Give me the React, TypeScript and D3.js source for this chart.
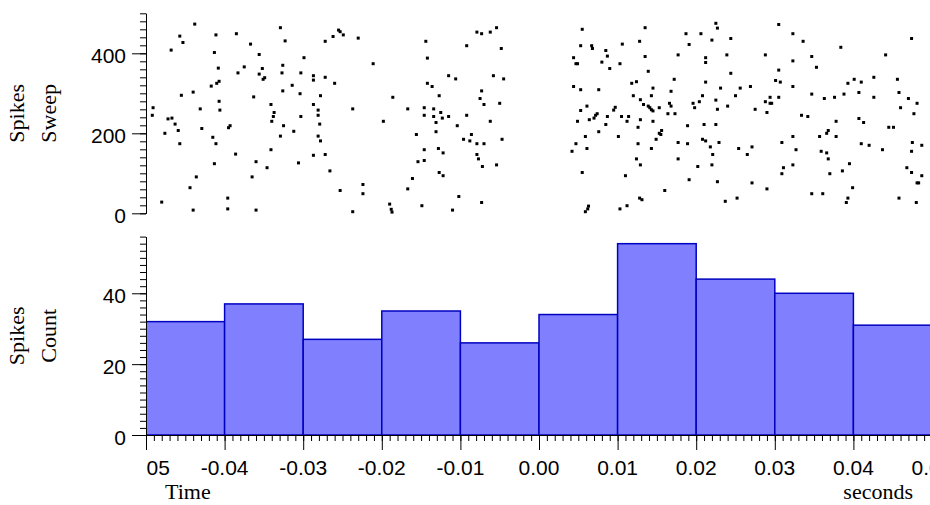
import React, { useEffect, useRef } from 'react';
import * as d3 from 'd3';

// spike raster: [time in ms, sweep number]
const spikes: [number, number][] = [
  [-49.1, 264], [-49.2, 245], [-48.0, 28], [-47.6, 200], [-47.2, 236], [-46.7, 238], [-46.8, 408], [-46.3, 223],
  [-45.9, 207], [-45.7, 174], [-45.7, 443], [-45.3, 427], [-45.5, 295], [-44.4, 64], [-44.0, 8], [-44.0, 303],
  [-43.8, 473], [-43.6, 91], [-43.1, 261], [-42.9, 212], [-41.7, 318], [-41.5, 190], [-41.3, 402], [-41.3, 124],
  [-41.1, 446], [-41.1, 174], [-41.0, 325], [-40.7, 330], [-40.8, 363], [-40.7, 280], [-40.6, 258], [-39.6, 38],
  [-39.6, 11], [-39.5, 214], [-39.3, 219], [-38.6, 148], [-38.5, 449], [-38.3, 351], [-37.5, 366], [-36.7, 423],
  [-36.5, 91], [-36.3, 291], [-36.0, 129], [-36.0, 8], [-35.6, 397], [-35.6, 348], [-35.2, 362], [-35.1, 335],
  [-34.9, 339], [-34.6, 114], [-34.1, 272], [-34.1, 159], [-34.0, 230], [-33.8, 242], [-33.7, 252], [-32.9, 464],
  [-32.9, 193], [-32.7, 351], [-32.6, 370], [-32.6, 306], [-32.5, 219], [-32.3, 431], [-31.4, 320], [-31.2, 205],
  [-30.6, 126], [-29.9, 389], [-30.3, 351], [-30.4, 299], [-30.3, 242], [-28.7, 344], [-28.7, 333], [-28.7, 272],
  [-28.7, 145], [-28.1, 258], [-28.1, 245], [-27.9, 223], [-28.1, 193], [-27.8, 181], [-27.8, 294], [-27.2, 430],
  [-27.2, 340], [-27.2, 147], [-26.6, 106], [-26.2, 442], [-26.0, 325], [-25.5, 458], [-25.3, 454], [-24.9, 446],
  [-25.3, 57], [-23.7, 261], [-23.7, 4], [-23.0, 438], [-22.4, 72], [-22.4, 49], [-21.1, 374], [-19.8, 230],
  [-19.0, 23], [-18.8, 10], [-18.7, 3], [-18.6, 290], [-16.7, 261], [-16.7, 61], [-16.1, 87], [-15.6, 197],
  [-15.4, 129], [-14.9, 19], [-14.6, 264], [-14.6, 245], [-14.6, 159], [-14.6, 132], [-14.4, 430], [-14.2, 388],
  [-14.2, 325], [-13.6, 317], [-13.4, 261], [-13.4, 242], [-13.1, 227], [-13.1, 204], [-12.8, 162], [-12.7, 294],
  [-12.7, 102], [-12.5, 252], [-12.3, 238], [-12.2, 151], [-12.2, 94], [-11.5, 242], [-11.5, 344], [-11.0, 8],
  [-10.6, 336], [-10.4, 219], [-10.2, 42], [-9.6, 185], [-9.2, 419], [-9.2, 245], [-8.8, 181], [-8.6, 197],
  [-7.9, 453], [-7.3, 449], [-7.9, 174], [-7.9, 147], [-7.7, 136], [-7.5, 287], [-7.3, 306], [-7.3, 27],
  [-7.2, 117], [-7.0, 272], [-7.0, 174], [-6.2, 453], [-6.2, 230], [-5.8, 344], [-5.4, 464], [-5.4, 121],
  [-5.0, 275], [-4.8, 412], [-4.7, 185], [-4.5, 336],
  [4.2, 155], [4.4, 389], [4.4, 317], [4.7, 374], [4.9, 374], [4.7, 174], [4.9, 230], [5.3, 419],
  [5.3, 309], [5.3, 257], [5.5, 460], [5.5, 102], [5.9, 192], [5.9, 4], [6.3, 18], [6.2, 11],
  [6.1, 162], [6.1, 268], [6.4, 234], [6.7, 419], [6.8, 412], [7.0, 238], [7.2, 245], [7.4, 249],
  [7.6, 309], [7.6, 204], [8.0, 378], [8.5, 407], [8.5, 222], [8.7, 393], [8.7, 242],
  [9.0, 362], [9.5, 258], [9.7, 265], [10.1, 192], [10.3, 374], [10.3, 11], [10.5, 242], [10.6, 423],
  [11.0, 94], [11.2, 19], [11.2, 230], [11.4, 242], [11.8, 325], [12.4, 329], [12.0, 294], [12.4, 136],
  [12.6, 215], [12.6, 174], [12.8, 430], [12.8, 38], [13.1, 34], [12.9, 284], [12.9, 234], [12.9, 121],
  [13.3, 272], [13.5, 464], [13.5, 392], [13.9, 355], [13.9, 268], [14.1, 264], [14.3, 259], [14.5, 256],
  [14.3, 294], [14.3, 162], [14.5, 313], [14.5, 230], [14.9, 185], [15.3, 264], [15.3, 200], [15.5, 197],
  [15.6, 207], [16.0, 57], [16.4, 249], [16.6, 275], [16.8, 268], [16.8, 305], [17.2, 335], [17.3, 249],
  [17.7, 396], [17.7, 177], [17.7, 136], [18.7, 449], [18.9, 219], [18.9, 174], [19.1, 422], [19.1, 84],
  [19.6, 275], [19.8, 264], [20.2, 117], [20.4, 279], [20.6, 449], [20.8, 294], [20.8, 185], [21.2, 181],
  [21.0, 222], [21.2, 389], [21.2, 377], [21.2, 328], [21.8, 166], [22.0, 433], [22.0, 121], [22.1, 147],
  [22.5, 475], [22.7, 463], [22.5, 283], [22.5, 222], [22.7, 260], [22.7, 79], [22.9, 177], [23.1, 313],
  [23.7, 30], [23.9, 396], [24.0, 268], [24.4, 437], [24.4, 350], [25.0, 294], [25.2, 38], [25.4, 162],
  [25.6, 313], [26.5, 147], [26.9, 317], [27.1, 166], [27.1, 76], [27.5, 260], [28.8, 396], [28.8, 279],
  [29.0, 252], [29.0, 61], [29.4, 290], [29.4, 275], [29.6, 275], [30.1, 332], [30.5, 472], [30.5, 358],
  [30.7, 328], [30.5, 290], [30.9, 177], [31.1, 114], [30.9, 99], [32.3, 449], [32.3, 381], [32.3, 317],
  [32.3, 192], [32.3, 121], [32.7, 159], [33.4, 245], [33.6, 430], [34.2, 242], [34.7, 392], [34.7, 298],
  [34.7, 49], [35.3, 365], [35.7, 192], [35.9, 155], [36.1, 49], [36.3, 287], [36.6, 151], [36.6, 200],
  [36.8, 207], [36.8, 136], [37.0, 99], [37.6, 290], [37.8, 230], [37.8, 192], [38.4, 415], [38.6, 106],
  [38.8, 298], [39.3, 325], [39.3, 38], [39.1, 27], [39.5, 124], [39.9, 64], [40.1, 335], [40.7, 302],
  [40.7, 237], [41.0, 328], [41.0, 174], [41.3, 227], [42.0, 170], [42.6, 340], [42.6, 290], [43.7, 159],
  [44.1, 396], [44.5, 215], [45.1, 215], [45.6, 335], [45.8, 302], [46.0, 264], [45.8, 38], [46.8, 114],
  [47.0, 287], [47.4, 437], [47.4, 102], [47.4, 155], [47.5, 177], [47.7, 249], [48.0, 27], [48.1, 275],
  [48.1, 76], [48.3, 76], [48.7, 170], [48.7, 94],
];

// histogram bins (start in ms, width 10 ms)
const binStartMs = [-60, -50, -40, -30, -20, -10, 0, 10, 20, 30, 40];
const binCounts = [35, 32, 37, 27, 35, 26, 34, 54, 44, 40, 31];

const sweepTicks = [0, 200, 400];
const countTicks = [0, 20, 40];
const timeTicks = [-0.05, -0.04, -0.03, -0.02, -0.01, 0, 0.01, 0.02, 0.03, 0.04, 0.05];

const sansFont = '"Liberation Sans", Arial, sans-serif';
const serifFont = '"Liberation Serif", "Times New Roman", serif';

const App = () => {
    const chartRef = useRef<SVGSVGElement>(null);

    useEffect(() => {
        const svg = d3.select(chartRef.current);
        svg.selectAll('*').remove();

        const x = d3.scaleLinear().domain([-0.05, 0.05]).range([146, 932]);
        const ySweep = d3.scaleLinear().domain([0, 500]).range([213.3, 13.3]);
        const yCount = d3.scaleLinear().domain([0, 56]).range([435, 236.6]);

        svg.append('defs').append('clipPath').attr('id', 'plotClip')
            .append('rect').attr('x', 146).attr('y', 0).attr('width', 800).attr('height', 505);

        // raster dots
        svg.append('g')
            .selectAll('rect')
            .data(spikes)
            .join('rect')
            .attr('x', d => x(d[0] / 1000) - 1.5)
            .attr('y', d => ySweep(d[1]) - 1.5)
            .attr('width', 3)
            .attr('height', 3)
            .attr('fill', '#000');

        // histogram bars
        svg.append('g')
            .attr('clip-path', 'url(#plotClip)')
            .selectAll('rect')
            .data(binStartMs.map((s, i) => ({ s: s / 1000, e: (s + 10) / 1000, c: binCounts[i] })))
            .join('rect')
            .attr('x', d => x(d.s))
            .attr('width', d => x(d.e) - x(d.s))
            .attr('y', d => yCount(d.c))
            .attr('height', d => yCount(0) - yCount(d.c))
            .attr('fill', '#8080ff')
            .attr('stroke', '#0000c0')
            .attr('stroke-width', 1.5);

        const styleAxis = (g, size = 21) => {
            g.attr('font-family', sansFont).attr('font-size', size);
            g.selectAll('line').attr('stroke', '#000');
            g.selectAll('path').attr('stroke', '#000');
        };

        // sweep axis
        svg.append('g')
            .attr('transform', 'translate(146,0)')
            .call(d3.axisLeft(ySweep).tickValues(d3.range(0, 501, 20)).tickSize(6).tickSizeOuter(0).tickFormat(() => ''))
            .call(styleAxis);
        svg.append('g')
            .attr('transform', 'translate(146,0)')
            .call(d3.axisLeft(ySweep).tickValues(sweepTicks).tickSize(14).tickSizeOuter(0).tickPadding(6).tickFormat(d3.format('d')))
            .call(styleAxis)
            .selectAll('text').attr('dy', '0.45em').attr('fill', '#000');

        // count axis
        svg.append('g')
            .attr('transform', 'translate(146,0)')
            .call(d3.axisLeft(yCount).tickValues(d3.range(0, 57, 2)).tickSize(6).tickSizeOuter(0).tickFormat(() => ''))
            .call(styleAxis);
        svg.append('g')
            .attr('transform', 'translate(146,0)')
            .call(d3.axisLeft(yCount).tickValues(countTicks).tickSize(14).tickSizeOuter(0).tickPadding(6).tickFormat(d3.format('d')))
            .call(styleAxis)
            .selectAll('text').attr('dy', '0.45em').attr('fill', '#000');

        // time axis
        svg.append('g')
            .attr('transform', 'translate(0,435)')
            .call(d3.axisBottom(x).tickValues(d3.range(-50, 51).map(i => i / 1000)).tickSize(6).tickSizeOuter(0).tickFormat(() => ''))
            .call(styleAxis);
        svg.append('g')
            .attr('transform', 'translate(0,435)')
            .call(d3.axisBottom(x).tickValues(timeTicks).tickSize(15).tickSizeOuter(0).tickFormat(() => ''))
            .call(styleAxis);

        svg.append('g')
            .attr('clip-path', 'url(#plotClip)')
            .attr('font-family', sansFont)
            .attr('font-size', 21)
            .selectAll('text')
            .data(timeTicks)
            .join('text')
            .attr('x', d => x(d))
            .attr('y', 475)
            .attr('text-anchor', 'middle')
            .text(d => d.toFixed(2));

        // titles
        const titles = [
            { t: 'Spikes', x: 24, y: 113.3 },
            { t: 'Sweep', x: 56, y: 113.3 },
            { t: 'Spikes', x: 24, y: 335.8 },
            { t: 'Count', x: 56, y: 335.8 },
        ];
        svg.append('g')
            .selectAll('text')
            .data(titles)
            .join('text')
            .attr('transform', d => `translate(${d.x},${d.y}) rotate(-90)`)
            .attr('text-anchor', 'middle')
            .attr('font-family', serifFont)
            .attr('font-size', 22)
            .text(d => d.t);

        svg.append('text')
            .attr('x', 165).attr('y', 499)
            .attr('font-family', serifFont).attr('font-size', 22)
            .text('Time');
        svg.append('text')
            .attr('x', 913).attr('y', 499)
            .attr('text-anchor', 'end')
            .attr('font-family', serifFont).attr('font-size', 22)
            .text('seconds');
    }, []);

    return (
        <svg
            ref={chartRef}
            width={930}
            height={505}
            style={{ position: 'absolute', left: 0, top: 0, background: '#fff' }}
        />
    );
};

export default App;
